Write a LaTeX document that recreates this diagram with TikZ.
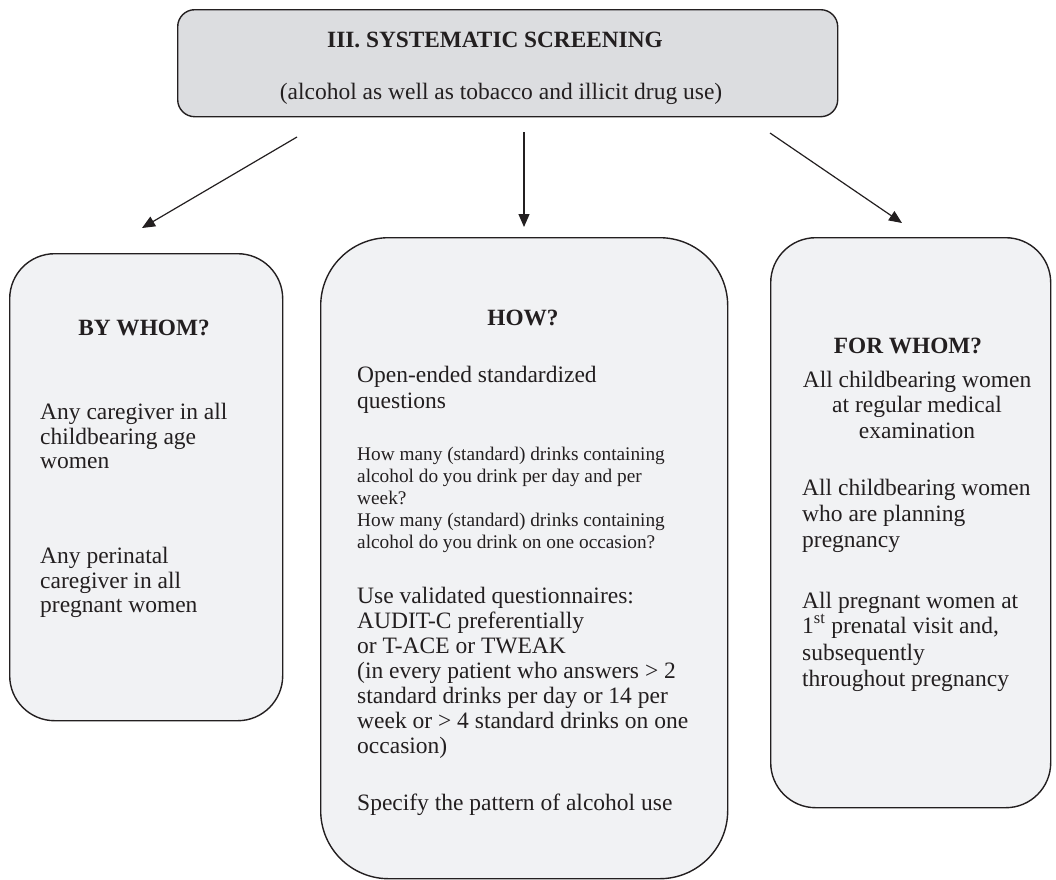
\documentclass[tikz,border=0pt]{standalone}
\usepackage{fontspec}
\setmainfont{Liberation Serif}
\usetikzlibrary{arrows.meta}

\definecolor{ink}{HTML}{231F20}
\definecolor{headfill}{HTML}{DCDDE0}
\definecolor{panelfill}{HTML}{F1F2F4}

\tikzset{
  box/.style={draw=ink, line width=1.4pt, inner sep=0pt, anchor=north west},
  headbox/.style={box, fill=headfill, rounded corners=17pt},
  panel/.style={box, fill=panelfill},
  txt/.style={inner sep=0pt, text=ink, anchor=base west, font=\fontsize{23.5}{25}\selectfont},
  small/.style={txt, font=\fontsize{19.3}{22}\selectfont},
  ctr/.style={txt, anchor=base},
  head/.style={ctr, font=\fontsize{23.3}{25}\selectfont\bfseries},
  link/.style={draw=ink, line width=1.2pt, -{Triangle[length=13pt,width=11pt]}},
}

\begin{document}
\begin{tikzpicture}[x=1pt, y=-1pt]
  \useasboundingbox (0,0) rectangle (1056,879);

  % heading box
  \node[headbox, minimum width=660pt, minimum height=107pt] (top) at (177,9) {};
  \node[head] (title) at (495,47) {III. SYSTEMATIC SCREENING};
  \node[ctr] (subtitle) at (501,99) {(alcohol as well as tobacco and illicit drug use)};

  % three panels
  \node[panel, rounded corners=45pt, minimum width=273pt, minimum height=467pt] (bywhom) at (9,253) {};
  \node[panel, rounded corners=68pt, minimum width=407pt, minimum height=641pt] (how) at (320,237) {};
  \node[panel, rounded corners=45pt, minimum width=280pt, minimum height=570pt] (forwhom) at (770,237) {};

  % connectors
  \coordinate (aL0) at (297,137);
  \coordinate (aL1) at (142,228);
  \coordinate (aM0) at (524,132);
  \coordinate (aM1) at (524,227);
  \coordinate (aR0) at (770,133);
  \coordinate (aR1) at (902,223);
  \draw[link] (aL0) -- (aL1);
  \draw[link] (aM0) -- (aM1);
  \draw[link] (aR0) -- (aR1);

  % BY WHOM?
  \node[head] (bw-h) at (144,335) {BY WHOM?};
  \node[txt] (bw-a1) at (40,419) {Any caregiver in all};
  \node[txt] (bw-a2) at (40,444) {childbearing age};
  \node[txt] (bw-a3) at (40,468) {women};
  \node[txt] (bw-b1) at (40,563) {Any perinatal};
  \node[txt] (bw-b2) at (40,588) {caregiver in all};
  \node[txt] (bw-b3) at (40,612) {pregnant women};

  % HOW?
  \node[head] (hw-h) at (523,325) {HOW?};
  \node[txt] (hw-a1) at (357,382) {Open-ended standardized};
  \node[txt] (hw-a2) at (357,408) {questions};
  \node[small] (hw-q1) at (357,460) {How many (standard) drinks containing};
  \node[small] (hw-q2) at (357,482) {alcohol do you drink per day and per};
  \node[small] (hw-q3) at (357,504) {week?};
  \node[small] (hw-q4) at (357,526) {How many (standard) drinks containing};
  \node[small] (hw-q5) at (357,548) {alcohol do you drink on one occasion?};
  \node[txt] (hw-b1) at (357,603) {Use validated questionnaires:};
  \node[txt] (hw-b2) at (357,628) {AUDIT-C preferentially};
  \node[txt] (hw-b3) at (357,653) {or T-ACE or TWEAK};
  \node[txt] (hw-b4) at (357,678) {(in every patient who answers > 2};
  \node[txt] (hw-b5) at (357,703) {standard drinks per day or 14 per};
  \node[txt] (hw-b6) at (357,728) {week or > 4 standard drinks on one};
  \node[txt] (hw-b7) at (357,753) {occasion)};
  \node[txt] (hw-c1) at (357,810) {Specify the pattern of alcohol use};

  % FOR WHOM?
  \node[head] (fw-h) at (908,353) {FOR WHOM?};
  \node[ctr] (fw-a1) at (917,387) {All childbearing women};
  \node[ctr] (fw-a2) at (917,412) {at regular medical};
  \node[ctr] (fw-a3) at (917,438) {examination};
  \node[txt] (fw-b1) at (802,495) {All childbearing women};
  \node[txt] (fw-b2) at (802,521) {who are planning};
  \node[txt] (fw-b3) at (802,547) {pregnancy};
  \node[txt] (fw-c1) at (802,608) {All pregnant women at};
  \node[txt] (fw-c2) at (802,633) {1\textsuperscript{st} prenatal visit and,};
  \node[txt] (fw-c3) at (802,660) {subsequently};
  \node[txt] (fw-c4) at (802,686) {throughout pregnancy};
\end{tikzpicture}
\end{document}
